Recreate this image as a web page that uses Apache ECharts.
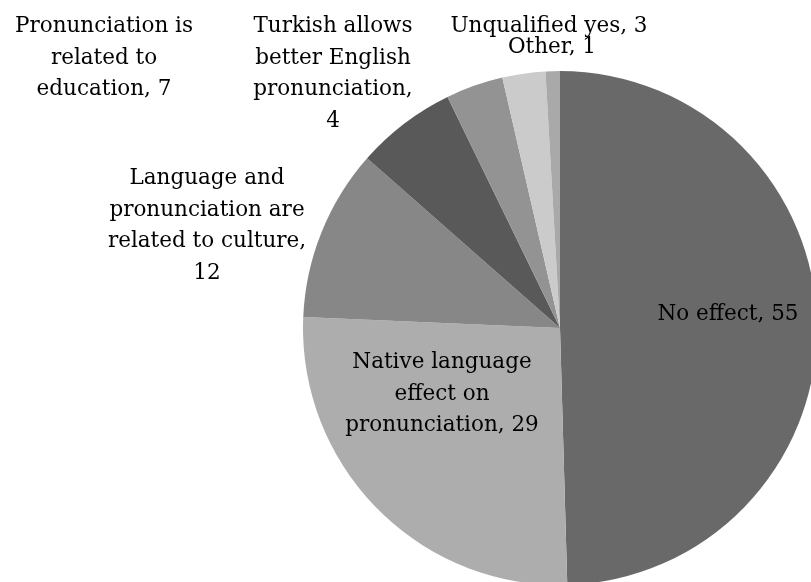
<!DOCTYPE html>
<html>
<head>
<meta charset="utf-8">
<script src="https://cdn.jsdelivr.net/npm/echarts@6/dist/echarts.min.js"></script>
<style>
  html, body { margin: 0; padding: 0; background: #fff; }
  #chart { width: 811px; height: 582px; }
</style>
</head>
<body>
<div id="chart"></div>
<script>
// Responses about the effect of the native language on pronunciation
const categories = [
  'No effect',
  'Native language\neffect on\npronunciation',
  'Language and\npronunciation are\nrelated to culture,\n',
  'Pronunciation is\nrelated to\neducation',
  'Turkish allows\nbetter English\npronunciation,\n',
  'Unqualified yes',
  'Other'
];
const counts = [55, 29, 12, 7, 4, 3, 1];
const sliceColors = ['#696969', '#adadad', '#878787', '#595959', '#939393', '#cbcbcb', '#a9a9a9'];

// Where each label block is centred
const labelSpots = [
  [728, 314],
  [442, 394],
  [207, 226],
  [104, 58],
  [333, 74],
  [549, 26],
  [552, 47]
];

const chart = echarts.init(document.getElementById('chart'), null, { renderer: 'canvas' });

chart.setOption({
  animation: false,
  series: [{
    type: 'pie',
    center: [560, 328],
    radius: [0, 257],
    startAngle: 90,
    clockwise: true,
    avoidLabelOverlap: false,
    data: categories.map((name, i) => ({
      name: name,
      value: counts[i],
      itemStyle: { color: sliceColors[i] }
    })),
    itemStyle: { borderWidth: 0 },
    label: {
      show: true,
      position: 'inside',
      formatter: p => {
        const sep = p.name.endsWith('\n') ? '' : ', ';
        return p.name + sep + p.value;
      },
      fontFamily: 'DejaVu Serif',
      fontSize: 21.5,
      lineHeight: 31.5,
      color: '#000',
      align: 'center'
    },
    labelLine: { show: false },
    labelLayout: params => ({
      x: labelSpots[params.dataIndex][0],
      y: labelSpots[params.dataIndex][1],
      align: 'center',
      verticalAlign: 'middle'
    }),
    emphasis: { disabled: true }
  }]
});
</script>
</body>
</html>
